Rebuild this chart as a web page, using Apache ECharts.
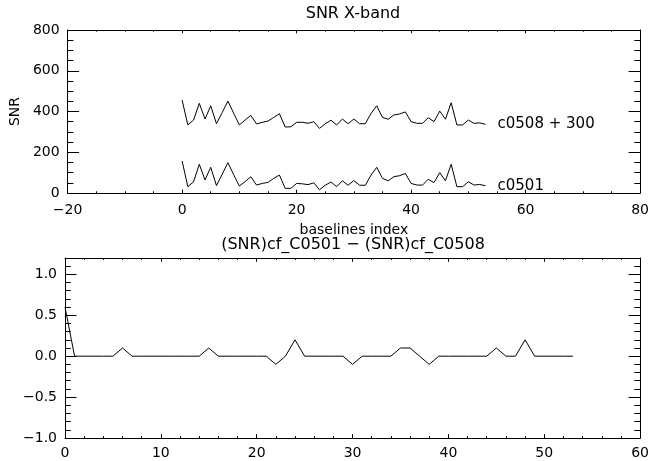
<!DOCTYPE html>
<html>
<head>
<meta charset="utf-8">
<script src="https://cdn.jsdelivr.net/npm/echarts@6/dist/echarts.min.js"></script>
<style>
  html, body { margin: 0; padding: 0; background: #fff; }
  #chart { width: 652px; height: 461px; }
</style>
</head>
<body>
<div id="chart"></div>
<script>
// Baseline SNR for two correlator passes (X-band) and the difference of their correlation factors.
const baselineCount = 54;

const snrC0501 = [157, 31, 55, 141, 64, 126, 36, 92, 149, 90, 34, 56, 80, 39, 47, 52, 72, 88,
  23, 23, 47, 45, 41, 50, 16, 38, 54, 31, 60, 38, 61, 38, 38, 88, 126, 72, 60, 80, 85, 96,
  47, 39, 39, 67, 51, 100, 60, 141, 31, 31, 55, 39, 42, 35];

const snrC0508 = [156, 34, 58, 140, 63, 128, 40, 95, 151, 92, 34, 58, 81, 39, 47, 53, 71, 89,
  24, 25, 47, 47, 42, 50, 17, 40, 57, 34, 63, 40, 63, 40, 40, 91, 128, 71, 62, 83, 88, 98,
  50, 42, 42, 70, 50, 102, 62, 143, 34, 34, 58, 42, 44, 37];

const c0508Offset = 300;

const cfDiff = [0.6, 0, 0, 0, 0, 0, 0.1, 0, 0, 0, 0, 0, 0, 0, 0, 0.1, 0, 0, 0, 0, 0, 0,
  -0.1, 0, 0.2, 0, 0, 0, 0, 0, -0.1, 0, 0, 0, 0, 0.1, 0.1, 0, -0.1, 0, 0, 0, 0, 0, 0,
  0.1, 0, 0, 0.2, 0, 0, 0, 0, 0];

// Tick labels
const topXTicks = [-20, 0, 20, 40, 60, 80];
const topYTicks = [0, 200, 400, 600, 800];
const botXTicks = [0, 10, 20, 30, 40, 50, 60];
const botYTicks = [-1.0, -0.5, 0.0, 0.5, 1.0];

const FONT = 'DejaVu Sans';
const INK = '#000';

function steps(min, max, step) {
  const out = [];
  const n = Math.round((max - min) / step);
  for (let k = 0; k <= n; k++) out.push(Math.round((min + k * step) * 1000) / 1000);
  return out;
}

function fmtMinus(v, digits) {
  const s = digits == null ? String(v) : Number(v).toFixed(digits);
  return s.replace('-', '\u2212');
}

// Four axes per side pair: labelled main axis, its minor ticks, and the mirrored box edge with ticks.
function boxAxes(dim, gridIndex, min, max, majors, minors, majLen, minLen, extra) {
  const mainPos = dim === 'x' ? 'bottom' : 'left';
  const oppPos = dim === 'x' ? 'top' : 'right';
  const base = {
    type: 'value', gridIndex: gridIndex, min: min, max: max,
    splitLine: { show: false }, silent: true
  };
  const tickStyle = { color: INK, width: 1 };
  const main = Object.assign({}, base, {
    position: mainPos,
    axisLine: { show: true, onZero: false, lineStyle: { color: INK, width: 1 } },
    axisTick: { show: true, inside: true, length: majLen, customValues: majors, lineStyle: tickStyle },
    axisLabel: Object.assign({ show: true, customValues: majors, color: INK, fontFamily: FONT, fontSize: 14 }, extra.label || {})
  }, extra.axis || {});
  const mainMinor = Object.assign({}, base, {
    position: mainPos,
    axisLine: { show: false, onZero: false },
    axisTick: { show: true, inside: true, length: minLen, customValues: minors, lineStyle: tickStyle },
    axisLabel: { show: false }
  });
  const opp = Object.assign({}, base, {
    position: oppPos,
    axisLine: { show: true, onZero: false, lineStyle: { color: INK, width: 1 } },
    axisTick: { show: true, inside: true, length: majLen, customValues: majors, lineStyle: tickStyle },
    axisLabel: { show: false }
  });
  const oppMinor = Object.assign({}, base, {
    position: oppPos,
    axisLine: { show: false, onZero: false },
    axisTick: { show: true, inside: true, length: minLen, customValues: minors, lineStyle: tickStyle },
    axisLabel: { show: false }
  });
  return [main, mainMinor, opp, oppMinor];
}

const idx = Array.from({ length: baselineCount }, (_, i) => i);

const xAxes = [].concat(
  boxAxes('x', 0, -20, 80, topXTicks, steps(-20, 80, 5), 3.3, 1.7, {
    label: { margin: 10, formatter: v => fmtMinus(v) },
    axis: { name: 'baselines index', nameLocation: 'middle', nameGap: 30,
      nameTextStyle: { color: INK, fontFamily: FONT, fontSize: 14 } }
  }),
  boxAxes('x', 1, 0, 60, botXTicks, steps(0, 60, 2), 3.8, 1.9, {
    label: { margin: 8 }
  })
);

const yAxes = [].concat(
  boxAxes('y', 0, 0, 800, topYTicks, steps(0, 800, 50), 11.5, 5.8, {
    label: { margin: 8 },
    axis: { name: 'SNR', nameLocation: 'middle', nameGap: 42, nameRotate: 90,
      nameTextStyle: { color: INK, fontFamily: FONT, fontSize: 14 } }
  }),
  boxAxes('y', 1, -1.0, 1.2, botYTicks, steps(-1.0, 1.2, 0.1), 11.5, 5.8, {
    label: { margin: 8, formatter: v => fmtMinus(v, 1) }
  })
);

const lineStyle = { color: INK, width: 1 };
const endLbl = { show: true, formatter: '{a}', distance: 12, color: INK, fontFamily: FONT, fontSize: 15 };

const boxCentre = 65 + (652 - 65 - 11) / 2;
const titleStyle = (text) => ({ text: text, fill: INK, fontFamily: FONT, fontSize: 16, align: 'center', verticalAlign: 'middle' });

const option = {
  animation: false,
  backgroundColor: '#fff',
  grid: [
    { left: 65, right: 11, top: 30, height: 163 },
    { left: 65, right: 11, top: 258, height: 180 }
  ],
  xAxis: xAxes,
  yAxis: yAxes,
  graphic: [
    { type: 'text', x: boxCentre, y: 14, style: titleStyle('SNR X-band'), silent: true },
    { type: 'text', x: boxCentre, y: 245, style: titleStyle('(SNR)cf_C0501 \u2212 (SNR)cf_C0508'), silent: true }
  ],
  series: [
    {
      name: 'c0508 + 300', type: 'line', xAxisIndex: 0, yAxisIndex: 0,
      data: idx.map(i => [i, snrC0508[i] + c0508Offset]),
      showSymbol: false, lineStyle: lineStyle, endLabel: endLbl, silent: true
    },
    {
      name: 'c0501', type: 'line', xAxisIndex: 0, yAxisIndex: 0,
      data: idx.map(i => [i, snrC0501[i]]),
      showSymbol: false, lineStyle: lineStyle, endLabel: endLbl, silent: true
    },
    {
      name: 'cf difference', type: 'line', xAxisIndex: 4, yAxisIndex: 4,
      data: idx.map(i => [i, cfDiff[i]]),
      showSymbol: false, lineStyle: lineStyle, silent: true
    }
  ]
};

const chart = echarts.init(document.getElementById('chart'), null, { renderer: 'canvas' });
chart.setOption(option);
</script>
</body>
</html>
